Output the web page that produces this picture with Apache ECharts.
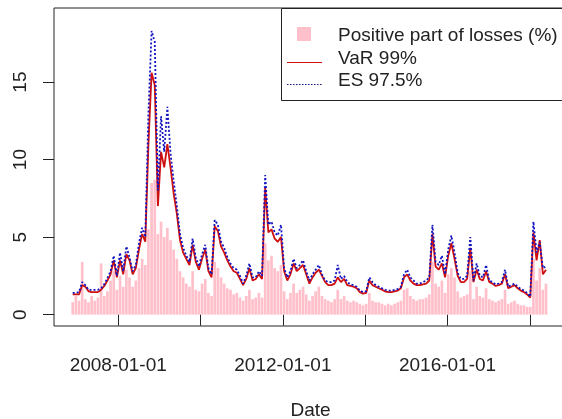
<!DOCTYPE html>
<html><head><meta charset="utf-8">
<script src="https://cdn.jsdelivr.net/npm/echarts@6/dist/echarts.min.js"></script>
<style>html,body{margin:0;padding:0;background:#fff;overflow:hidden}#c{width:562px;height:419px}</style>
</head><body><div id="c"></div>
<script>
const startDate = [2006, 10, 23];
const stepDays = 28;
const lossPos = [0.8,1.2,0.9,3.4,1.0,0.8,1.2,0.9,1.1,3.3,
 1.2,1.5,2.2,2.8,1.6,2.5,1.8,2.9,2.4,1.8,
 2.2,3.0,3.6,3.2,5.5,8.5,8.7,5.2,6.0,5.0,
 5.6,4.8,4.2,3.6,2.8,2.4,2.0,1.8,2.8,1.6,
 1.5,2.0,2.3,1.4,1.2,3.4,3.0,2.4,2.0,1.7,
 1.6,1.3,1.4,1.1,0.9,1.2,1.6,1.0,1.1,1.4,
 1.1,4.6,3.5,3.8,3.0,2.8,3.2,1.5,1.0,1.4,
 2.0,1.4,1.6,1.8,1.3,0.9,1.2,1.5,1.8,1.2,
 1.0,0.9,0.8,1.0,1.6,1.0,1.2,0.9,0.8,0.9,
 0.8,0.7,0.6,0.7,1.4,0.9,0.8,0.8,0.7,0.6,
 0.7,0.6,0.7,0.8,0.9,1.6,1.7,1.2,1.0,0.9,
 1.0,1.0,1.1,1.3,3.4,2.0,1.8,2.2,1.4,2.6,
 3.0,2.4,1.5,1.1,1.2,1.3,2.8,1.0,1.8,1.2,
 1.1,1.7,1.0,0.9,0.8,0.9,1.0,1.6,0.7,0.8,
 0.9,0.7,0.6,0.6,0.5,0.5,3.6,2.2,3.0,1.6,
 2.0];
const var99 = [1.3,1.3,1.3,1.9,1.8,1.5,1.45,1.45,1.45,1.6,
 1.85,2.2,2.6,3.5,2.4,3.5,2.6,3.9,3.5,2.6,
 3.0,4.2,5.2,4.7,11.0,15.6,14.8,7.0,10.5,9.5,
 11.0,9.5,7.8,6.5,4.8,4.0,3.6,3.2,4.5,3.4,
 2.9,3.6,4.2,2.8,2.4,5.7,5.4,4.4,4.0,3.5,
 3.1,2.8,2.7,2.3,1.9,2.3,3.0,2.2,2.3,2.6,
 2.3,8.2,5.3,5.5,4.9,4.7,5.0,2.8,2.2,2.6,
 3.3,2.8,3.0,3.2,2.6,2.0,2.4,2.7,2.9,2.5,
 2.1,1.9,1.9,2.0,2.4,2.1,2.3,1.9,1.85,1.8,
 1.7,1.45,1.35,1.4,2.2,1.9,1.8,1.7,1.6,1.5,
 1.45,1.45,1.5,1.55,1.7,2.4,2.6,2.2,2.0,1.9,
 1.9,1.95,2.0,2.2,5.2,3.1,2.9,3.3,2.4,3.8,
 4.6,3.6,2.5,2.1,2.1,2.3,4.3,2.1,2.9,2.3,
 2.2,2.8,2.1,2.0,1.85,1.9,2.0,2.6,1.7,1.8,
 1.9,1.7,1.55,1.45,1.3,1.1,5.3,3.5,4.8,2.6,
 2.9];
const es975 = [1.4,1.4,1.45,2.1,1.9,1.6,1.6,1.6,1.6,1.7,
 1.95,2.35,2.8,3.8,2.5,4.0,2.8,4.4,3.7,2.8,
 3.2,4.6,5.6,5.0,13.0,18.3,17.6,8.0,12.8,10.5,
 13.4,10.4,8.6,7.0,5.2,4.3,3.8,3.4,4.9,3.7,
 3.1,3.9,4.5,3.0,2.6,6.1,5.8,4.7,4.3,3.7,
 3.3,3.0,2.9,2.5,2.0,2.5,3.3,2.4,2.4,2.8,
 2.5,9.0,5.8,6.0,5.3,5.1,5.8,3.0,2.4,2.8,
 3.6,3.0,3.2,3.5,2.8,2.2,2.6,2.9,3.2,2.6,
 2.2,2.1,2.1,2.2,3.2,2.3,2.5,2.1,1.95,1.9,
 1.8,1.55,1.45,1.5,2.4,2.1,1.9,1.8,1.7,1.6,
 1.55,1.55,1.6,1.65,1.8,2.6,2.9,2.4,2.2,2.0,
 2.0,2.1,2.2,2.4,5.8,3.4,3.2,3.8,2.6,4.2,
 5.1,4.0,2.7,2.3,2.3,2.5,5.0,2.2,3.3,2.5,
 2.4,3.2,2.2,2.1,1.95,2.0,2.1,2.9,1.8,1.9,
 2.0,1.8,1.65,1.55,1.4,1.15,6.0,4.0,4.7,3.0,
 3.1];
const yTicks = [0, 5, 10, 15];
const xTickYears = [2008, 2010, 2012, 2014, 2016, 2018];
const xLabelYears = [2008, 2012, 2016];
const seriesNames = ['Positive part of losses (%)', 'VaR 99%', 'ES 97.5%'];

// ---- build ----
const DAY = 86400000;
const t0 = Date.UTC(startDate[0], startDate[1], startDate[2]);
const dates = lossPos.map((_, i) => t0 + i * stepDays * DAY);
const xMin = Date.UTC(2006, 5, 10);
const xMax = xMin + 4552 * DAY;
const yearTs = y => Date.UTC(y, 0, 1);
const pad = n => (n < 10 ? '0' : '') + n;
const fmt = v => { const d = new Date(v); return d.getUTCFullYear() + '-' + pad(d.getUTCMonth() + 1) + '-' + pad(d.getUTCDate()); };
const FONT = '"Liberation Sans", Arial, Helvetica, sans-serif';
const INK = '#222';
const RED = '#d01010';
const BLUE = '#1414c0';

const chart = echarts.init(document.getElementById('c'), null, {renderer: 'canvas'});
chart.setOption({
  animation: false,
  backgroundColor: '#fff',
  textStyle: {fontFamily: FONT},
  grid: {left: 54, top: 8, width: 513, height: 318, show: true, borderColor: INK, borderWidth: 1,
    backgroundColor: 'transparent', containLabel: false, outerBoundsMode: 'none'},
  xAxis: {
    type: 'value', min: xMin, max: xMax, scale: true,
    name: 'Date', nameLocation: 'middle', nameGap: 75,
    nameTextStyle: {fontSize: 19, color: INK, fontFamily: FONT},
    axisLine: {show: false},
    splitLine: {show: false},
    axisTick: {show: true, length: 11, lineStyle: {color: INK, width: 1}, customValues: xTickYears.map(yearTs)},
    axisLabel: {show: true, fontSize: 19, color: INK, fontFamily: FONT, margin: 30,
      customValues: xLabelYears.map(yearTs), formatter: v => fmt(v)}
  },
  yAxis: {
    type: 'value', min: -0.735, max: 19.78,
    axisLine: {show: false},
    splitLine: {show: false},
    axisTick: {show: true, length: 11, lineStyle: {color: INK, width: 1}, customValues: yTicks},
    axisLabel: {show: true, fontSize: 19, color: INK, fontFamily: FONT, rotate: 90, margin: 24, customValues: yTicks}
  },
  series: [
    {name: seriesNames[0], type: 'bar', barWidth: 2.7, itemStyle: {color: '#FFC0CB'},
      data: dates.map((t, i) => [t, lossPos[i]]), z: 1},
    {name: seriesNames[1], type: 'line', symbol: 'none', lineStyle: {color: RED, width: 1.8},
      data: dates.map((t, i) => [t, var99[i]]), z: 2},
    {name: seriesNames[2], type: 'line', symbol: 'none', lineStyle: {color: BLUE, width: 1.8, type: [2, 2]},
      data: dates.map((t, i) => [t, es975[i]]), z: 3}
  ],
  graphic: [
    {type: 'rect', z: 100, shape: {x: 281.5, y: 8.5, width: 300, height: 92}, style: {fill: '#fff', stroke: INK, lineWidth: 1}},
    {type: 'rect', z: 101, shape: {x: 297, y: 27, width: 14, height: 14}, style: {fill: '#FFC0CB'}},
    {type: 'line', z: 101, shape: {x1: 287, y1: 62.5, x2: 322, y2: 62.5}, style: {stroke: RED, lineWidth: 1.2}},
    {type: 'line', z: 101, shape: {x1: 287, y1: 84.5, x2: 322, y2: 84.5}, style: {stroke: '#101080', lineWidth: 1.2, lineDash: [1.5, 1.5]}},
    {type: 'text', z: 101, x: 338, y: 36, style: {text: seriesNames[0], fontSize: 19, fontFamily: FONT, fill: INK, verticalAlign: 'middle'}},
    {type: 'text', z: 101, x: 338, y: 59, style: {text: seriesNames[1], fontSize: 19, fontFamily: FONT, fill: INK, verticalAlign: 'middle'}},
    {type: 'text', z: 101, x: 338, y: 81, style: {text: seriesNames[2], fontSize: 19, fontFamily: FONT, fill: INK, verticalAlign: 'middle'}}
  ]
});
</script>
</body></html>
